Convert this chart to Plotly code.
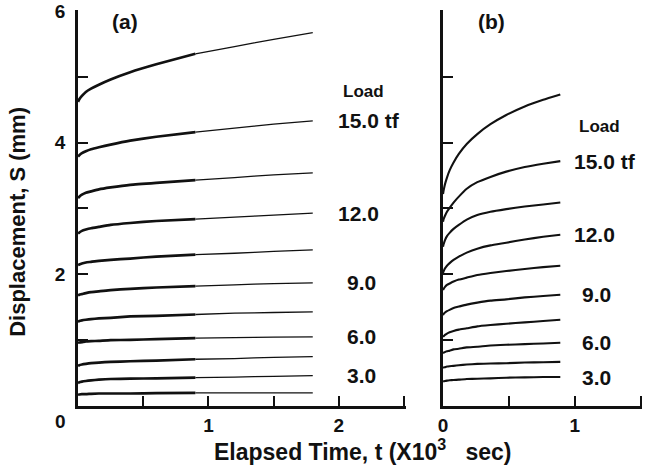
import plotly.graph_objects as go

# ---------------- data ----------------
# Panel (a): elapsed time (x10^3 s) and displacement S (mm)
t_a = [0, 0.01, 0.03, 0.06, 0.1, 0.16, 0.25, 0.4, 0.6, 0.9, 1.2, 1.5, 1.8]
loads_a = [16.5, 15.0, 13.5, 12.0, 10.5, 9.0, 7.5, 6.0, 4.5, 3.0, 1.5]
S_a = [
    [4.62, 4.66, 4.71, 4.77, 4.82, 4.88, 4.96, 5.07, 5.19, 5.35, 5.46, 5.57, 5.67],
    [3.79, 3.81, 3.84, 3.87, 3.90, 3.93, 3.97, 4.03, 4.09, 4.16, 4.22, 4.28, 4.33],
    [3.16, 3.18, 3.21, 3.24, 3.26, 3.29, 3.32, 3.36, 3.39, 3.43, 3.47, 3.51, 3.54],
    [2.62, 2.635, 2.66, 2.68, 2.70, 2.72, 2.75, 2.78, 2.81, 2.84, 2.87, 2.90, 2.93],
    [2.14, 2.15, 2.165, 2.18, 2.19, 2.205, 2.22, 2.24, 2.27, 2.30, 2.32, 2.35, 2.37],
    [1.68, 1.69, 1.70, 1.715, 1.73, 1.74, 1.76, 1.78, 1.80, 1.82, 1.84, 1.86, 1.87],
    [1.28, 1.29, 1.30, 1.31, 1.32, 1.33, 1.34, 1.36, 1.37, 1.39, 1.41, 1.42, 1.43],
    [0.96, 0.965, 0.97, 0.98, 0.985, 0.99, 1.00, 1.005, 1.015, 1.03, 1.04, 1.045, 1.05],
    [0.61, 0.62, 0.63, 0.64, 0.65, 0.66, 0.67, 0.68, 0.69, 0.71, 0.72, 0.74, 0.75],
    [0.35, 0.36, 0.37, 0.38, 0.39, 0.40, 0.41, 0.415, 0.42, 0.43, 0.44, 0.45, 0.46],
    [0.17, 0.175, 0.18, 0.18, 0.185, 0.19, 0.19, 0.19, 0.195, 0.20, 0.20, 0.20, 0.20],
]
thick_until = 0.9  # curves in (a) drawn heavier up to this time

# Panel (b)
t_b = [0, 0.005, 0.015, 0.03, 0.05, 0.08, 0.12, 0.18, 0.26, 0.36, 0.48, 0.62, 0.76, 0.89]
loads_b = [16.5, 15.0, 13.5, 12.0, 10.5, 9.0, 7.5, 6.0, 4.5, 3.0]
S_b = [
    [3.22, 3.28, 3.37, 3.47, 3.58, 3.70, 3.83, 3.98, 4.13, 4.28, 4.42, 4.55, 4.65, 4.73],
    [2.80, 2.84, 2.89, 2.95, 3.01, 3.09, 3.18, 3.30, 3.40, 3.48, 3.56, 3.63, 3.68, 3.72],
    [2.42, 2.46, 2.52, 2.58, 2.63, 2.69, 2.75, 2.83, 2.90, 2.95, 2.99, 3.03, 3.06, 3.09],
    [2.02, 2.05, 2.09, 2.13, 2.17, 2.22, 2.27, 2.33, 2.39, 2.44, 2.48, 2.53, 2.57, 2.60],
    [1.76, 1.78, 1.81, 1.84, 1.86, 1.89, 1.92, 1.95, 1.99, 2.02, 2.05, 2.08, 2.11, 2.13],
    [1.38, 1.40, 1.42, 1.44, 1.46, 1.49, 1.51, 1.54, 1.57, 1.60, 1.62, 1.65, 1.67, 1.69],
    [1.05, 1.06, 1.08, 1.10, 1.12, 1.14, 1.16, 1.18, 1.21, 1.23, 1.25, 1.27, 1.29, 1.31],
    [0.80, 0.81, 0.82, 0.83, 0.84, 0.86, 0.87, 0.89, 0.90, 0.92, 0.93, 0.94, 0.95, 0.96],
    [0.58, 0.585, 0.59, 0.60, 0.605, 0.61, 0.62, 0.63, 0.64, 0.645, 0.65, 0.66, 0.665, 0.67],
    [0.37, 0.375, 0.38, 0.385, 0.39, 0.395, 0.40, 0.41, 0.415, 0.42, 0.43, 0.435, 0.44, 0.44],
]

label_loads = [15.0, 12.0, 9.0, 6.0, 3.0]
label_texts = ["15.0 tf", "12.0", "9.0", "6.0", "3.0"]

y_ticks = [1, 2, 3, 4, 5, 6]
y_ticktext = ["", "2", "", "4", "", "6"]
xa_ticks = [0.5, 1, 1.5, 2, 2.5]
xa_ticktext = ["", "1", "", "2", ""]
xb_ticks = [0, 0.5, 1, 1.5]
xb_ticktext = ["0", "", "1", ""]

# ---------------- figure ----------------
FONT = "Liberation Sans"
INK = "#111111"
fig = go.Figure()

k = t_a.index(thick_until)
for s in S_a:
    fig.add_trace(go.Scatter(x=t_a[:k + 1], y=s[:k + 1], mode="lines",
                             line=dict(color=INK, width=2.7, shape="spline", smoothing=0.4),
                             xaxis="x", yaxis="y", showlegend=False, hoverinfo="skip"))
    fig.add_trace(go.Scatter(x=t_a[k:], y=s[k:], mode="lines",
                             line=dict(color=INK, width=1.3, shape="spline", smoothing=0.4),
                             xaxis="x", yaxis="y", showlegend=False, hoverinfo="skip"))
for s in S_b:
    fig.add_trace(go.Scatter(x=t_b, y=s, mode="lines",
                             line=dict(color=INK, width=2.1, shape="spline", smoothing=0.4),
                             xaxis="x2", yaxis="y2", showlegend=False, hoverinfo="skip"))

tickfont = dict(family=FONT, size=19, color=INK, weight="bold")
common = dict(showline=True, linewidth=2.8, linecolor=INK, ticks="inside", ticklen=10,
              tickwidth=2.2, tickcolor=INK, showgrid=False, zeroline=False,
              tickfont=tickfont, fixedrange=True, automargin=False)

fig.update_layout(
    width=652, height=465,
    margin=dict(l=78, r=10, t=10, b=59, autoexpand=False),
    paper_bgcolor="white", plot_bgcolor="white",
    xaxis=dict(domain=[0, 0.5816], range=[0, 2.515], anchor="y",
               tickmode="array", tickvals=xa_ticks, ticktext=xa_ticktext, **common),
    yaxis=dict(domain=[0, 1], range=[0, 6.015], anchor="x",
               tickmode="array", tickvals=y_ticks, ticktext=y_ticktext,
               ticklabelstandoff=6, **common),
    xaxis2=dict(domain=[0.6472, 1.0], range=[0, 1.51], anchor="y2",
                tickmode="array", tickvals=xb_ticks, ticktext=xb_ticktext, **common),
    yaxis2=dict(domain=[0, 1], range=[0, 6.015], anchor="x2",
                tickmode="array", tickvals=y_ticks, showticklabels=False, **common),
)

ann = []
lab_font = dict(family=FONT, size=21, color=INK, weight="bold")
title_font = dict(family=FONT, size=22, color=INK, weight="bold")
xtitle_font = dict(family=FONT, size=23, color=INK, weight="bold")
load_font = dict(family=FONT, size=17, color=INK, weight="bold")

# load labels placed at the end height of the matching curve
for loads, S, xr, yr, x_two, x_one, load_x, load_dy in [
        (loads_a, S_a, "x", "y", 1.98, 2.05, 2.02, 0.45),
        (loads_b, S_b, "x2", "y2", 0.977, 1.04, 1.02, 0.53)]:
    for L, txt in zip(label_loads, label_texts):
        yend = S[loads.index(L)][-1]
        ann.append(dict(x=x_two if len(txt.split(" ")[0]) > 3 else x_one, y=yend,
                        xref=xr, yref=yr, text=txt, showarrow=False,
                        xanchor="left", yanchor="middle", font=lab_font))
    ann.append(dict(x=load_x, y=S[loads.index(15.0)][-1] + load_dy, xref=xr, yref=yr,
                    text="Load", showarrow=False, xanchor="left", yanchor="middle",
                    font=load_font))

ann.append(dict(x=0.358, y=5.84, xref="x", yref="y", text="(a)", showarrow=False,
                xanchor="center", yanchor="middle", font=lab_font))
ann.append(dict(x=0.371, y=5.84, xref="x2", yref="y2", text="(b)", showarrow=False,
                xanchor="center", yanchor="middle", font=lab_font))
# shared origin label of panel (a)
ann.append(dict(x=0, y=0, xref="x", yref="y", text="0", showarrow=False,
                xanchor="center", yanchor="middle", xshift=-18, yshift=-15,
                font=tickfont))
# axis titles
ann.append(dict(x=-0.1064, y=0.465, xref="paper", yref="paper",
                text="Displacement, S (mm)", textangle=-90, showarrow=False,
                xanchor="center", yanchor="middle", font=title_font))
ann.append(dict(x=0.505, y=-0.111, xref="paper", yref="paper",
                text="Elapsed Time, t (X10<sup>3</sup>\u00a0\u00a0 sec)", showarrow=False,
                xanchor="center", yanchor="middle", font=xtitle_font))
fig.update_layout(annotations=ann)

fig.write_html("out.html")
